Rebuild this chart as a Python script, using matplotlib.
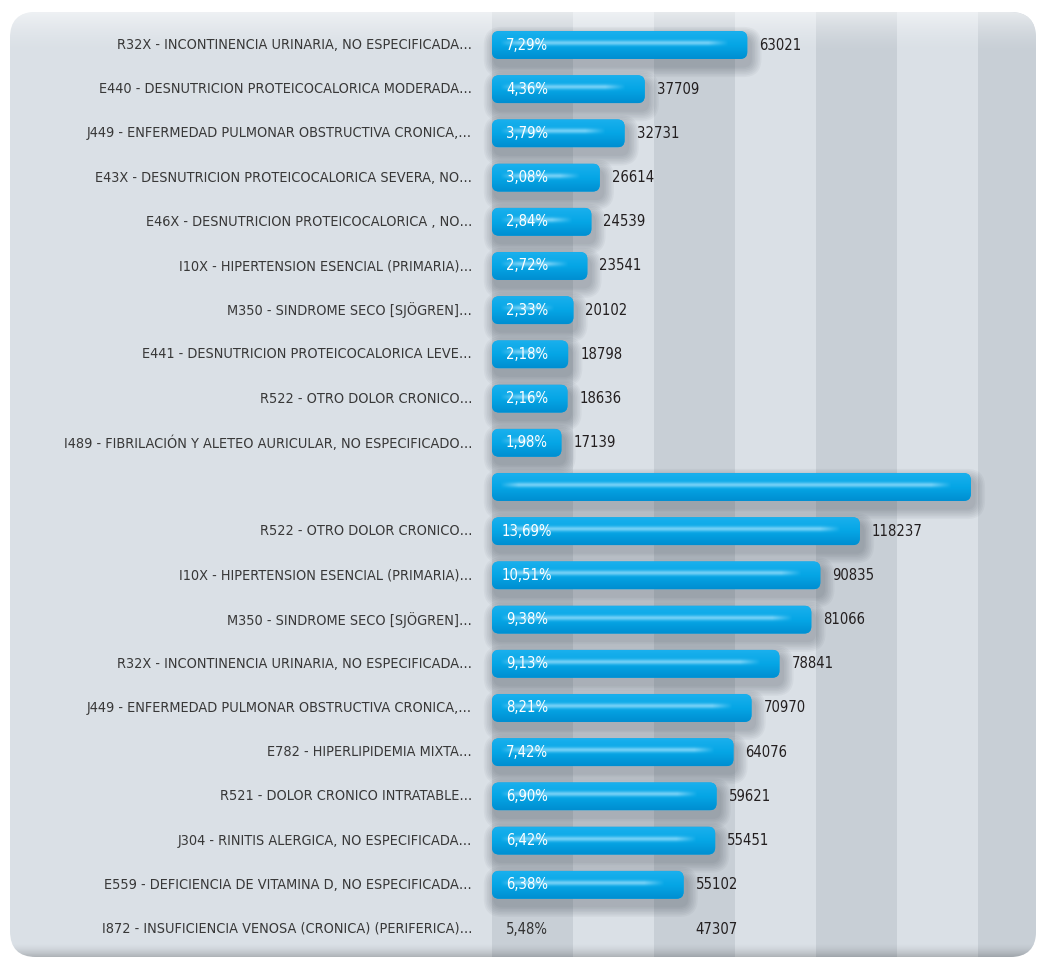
import numpy as np
import matplotlib
matplotlib.use("Agg")
import matplotlib.pyplot as plt
from matplotlib.patches import FancyBboxPatch
from matplotlib import font_manager

# ---- data ----
top_labels = [
    "R32X - INCONTINENCIA URINARIA, NO ESPECIFICADA…",
    "E440 - DESNUTRICION PROTEICOCALORICA MODERADA…",
    "J449 - ENFERMEDAD PULMONAR OBSTRUCTIVA CRONICA,…",
    "E43X - DESNUTRICION PROTEICOCALORICA SEVERA, NO…",
    "E46X - DESNUTRICION PROTEICOCALORICA , NO…",
    "I10X - HIPERTENSION ESENCIAL (PRIMARIA)…",
    "M350 - SINDROME SECO [SJÖGREN]…",
    "E441 - DESNUTRICION PROTEICOCALORICA LEVE…",
    "R522 - OTRO DOLOR CRONICO…",
    "I489 - FIBRILACIÓN Y ALETEO AURICULAR, NO ESPECIFICADO…",
]
top_pct = ["7,29%", "4,36%", "3,79%", "3,08%", "2,84%",
           "2,72%", "2,33%", "2,18%", "2,16%", "1,98%"]
top_vals = [63021, 37709, 32731, 26614, 24539, 23541, 20102, 18798, 18636, 17139]

bottom_labels = [
    "R522 - OTRO DOLOR CRONICO…",
    "I10X - HIPERTENSION ESENCIAL (PRIMARIA)…",
    "M350 - SINDROME SECO [SJÖGREN]…",
    "R32X - INCONTINENCIA URINARIA, NO ESPECIFICADA…",
    "J449 - ENFERMEDAD PULMONAR OBSTRUCTIVA CRONICA,…",
    "E782 - HIPERLIPIDEMIA MIXTA…",
    "R521 - DOLOR CRONICO INTRATABLE…",
    "J304 - RINITIS ALERGICA, NO ESPECIFICADA…",
    "E559 - DEFICIENCIA DE VITAMINA D, NO ESPECIFICADA…",
    "I872 - INSUFICIENCIA VENOSA (CRONICA) (PERIFERICA)…",
]
bottom_pct = ["13,69%", "10,51%", "9,38%", "9,13%", "8,21%",
              "7,42%", "6,90%", "6,42%", "6,38%", "5,48%"]
bottom_vals = [118237, 90835, 81066, 78841, 70970, 64076, 59621, 55451, 55102, 47307]

band_step = 20000

# ---- layout (pixels) ----
W, H = 1042, 964
X0 = 492          # zero of the value axis
K = 0.00405       # pixels per unit
ROW0, ROWH = 45, 44.2
BAR_H = 0.63

# pick a narrow font if one is installed, otherwise shrink DejaVu Sans
FONT = {"family": "DejaVu Sans"}
LAB_FS, NUM_FS = 9.0, 9.5
for fam, stretch in [("Liberation Sans Narrow", "normal"), ("DejaVu Sans", "condensed")]:
    fp = font_manager.FontProperties(family=fam, stretch=stretch)
    try:
        f = font_manager.findfont(fp, fallback_to_default=False)
    except Exception:
        continue
    if "Narrow" in f or "Condensed" in f:
        FONT = {"family": fam, "stretch": stretch}
        LAB_FS, NUM_FS = 10.4, 10.6
        break

fig = plt.figure(figsize=(W / 100, H / 100), dpi=100)
fig.patch.set_facecolor("white")
ax = fig.add_axes([0, 0, 1, 1])
ax.axis("off")


def set_lims():
    ax.set_xlim(-X0 / K, (W - X0) / K)
    ax.set_ylim((H - ROW0) / ROWH, -ROW0 / ROWH)


set_lims()


def px_x(p):
    return (p - X0) / K


def px_y(p):
    return (p - ROW0) / ROWH


ux = 1 / K        # units per pixel, x
uy = 1 / ROWH     # units per pixel, y
aspect = uy / ux

# panel
panel = FancyBboxPatch((px_x(10), px_y(12)), (1036 - 10) * ux, (957 - 12) * uy,
                       boxstyle=f"round,pad=0,rounding_size={26 * ux}",
                       mutation_aspect=aspect, facecolor="#dae0e6",
                       edgecolor="none", zorder=0)
ax.add_patch(panel)

# alternating vertical bands
for i in range(7):
    if i % 2 == 0:
        sp = ax.axvspan(i * band_step, (i + 1) * band_step, color="#c8cfd6",
                        lw=0, zorder=0.2)
        sp.set_clip_path(panel)

# top highlight and bottom shade of the panel
n = 945
yy = np.arange(n)
grad = np.zeros((n, 1, 4))
grad[:, 0, :3] = 1.0
grad[:, 0, 3] = np.clip(1 - yy / 40.0, 0, 1) ** 1.5 * 0.55
im = ax.imshow(grad, extent=(px_x(10), px_x(1036), px_y(957), px_y(12)),
               aspect="auto", origin="upper", zorder=0.4, interpolation="bilinear")
im.set_clip_path(panel)
shade = np.zeros((n, 1, 4))
shade[:, 0, 3] = np.clip((yy - (n - 14)) / 14.0, 0, 1) ** 1.5 * 0.22
im2 = ax.imshow(shade, extent=(px_x(10), px_x(1036), px_y(957), px_y(12)),
                aspect="auto", origin="upper", zorder=0.4, interpolation="bilinear")
im2.set_clip_path(panel)
set_lims()


def bar_image(length_px, height_px):
    w = max(int(length_px), 2)
    h = max(int(height_px), 2)
    tt = np.linspace(0, 1, h)
    top = np.array([0.10, 0.69, 0.93])
    mid = np.array([0.02, 0.65, 0.90])
    bot = np.array([0.00, 0.56, 0.82])
    rgb = np.zeros((h, w, 3))
    for j, v in enumerate(tt):
        if v < 0.5:
            c = top + (mid - top) * (v / 0.5)
        else:
            c = mid + (bot - mid) * ((v - 0.5) / 0.5)
        rgb[j, :, :] = c
    # light stripe
    xs = np.arange(w)
    env = np.clip((xs - 8) / 18.0, 0, 1) * np.clip((w - 20 - xs) / 20.0, 0, 1)
    vg = np.exp(-((tt - 0.42) / 0.09) ** 2)
    wgt = (vg[:, None] * env[None, :]) * 0.72
    hl = np.array([0.62, 0.88, 0.99])
    rgb = rgb * (1 - wgt[..., None]) + hl * wgt[..., None]
    return rgb


def draw_bar(slot, value):
    y0 = slot - BAR_H / 2
    r = 7 * ux
    # soft shadow
    for k in range(7):
        g = (k + 1) * 1.6
        sh = FancyBboxPatch((-g * ux + 3 * ux, y0 + (5 - g) * uy + 2 * uy),
                            value + 2 * g * ux, BAR_H + 2 * g * uy,
                            boxstyle=f"round,pad=0,rounding_size={r + g * ux}",
                            mutation_aspect=aspect, facecolor="#2a3540",
                            edgecolor="none", alpha=0.045, zorder=1)
        ax.add_patch(sh)
    p = FancyBboxPatch((0, y0), value, BAR_H,
                       boxstyle=f"round,pad=0,rounding_size={r}",
                       mutation_aspect=aspect, facecolor="#0aa6e6",
                       edgecolor="none", zorder=2)
    ax.add_patch(p)
    img = bar_image(value * K, BAR_H * ROWH)
    bi = ax.imshow(img, extent=(0, value, y0 + BAR_H, y0), origin="upper",
                   aspect="auto", zorder=2.1, interpolation="bilinear")
    bi.set_clip_path(p)
    return value


# bars: top block in slots 0-9, bottom block in slots 10-19
bar_len = {}
for i, v in enumerate(top_vals):
    bar_len[i] = draw_bar(i, v)
for i, v in enumerate(bottom_vals):
    bar_len[10 + i] = draw_bar(10 + i, v)
set_lims()

# texts
rows = [(i, top_labels[i], top_pct[i], top_vals[i]) for i in range(10)]
rows += [(11 + i, bottom_labels[i], bottom_pct[i], bottom_vals[i]) for i in range(10)]

for slot, lab, pct, val in rows:
    ax.text(px_x(472), slot, lab, ha="right", va="center", fontsize=LAB_FS,
            color="#383838", zorder=4, **FONT)
    has_bar = slot in bar_len
    ax.text(px_x(527), slot, pct, ha="center", va="center", fontsize=NUM_FS,
            color="white" if has_bar else "#333333", zorder=4, **FONT)
    end = bar_len[slot] if has_bar else val
    ax.text(end + 12 * ux, slot, str(val), ha="left", va="center", fontsize=NUM_FS,
            color="#231f20", zorder=4, **FONT)

fig.savefig("out.png", dpi=100, facecolor="white")
